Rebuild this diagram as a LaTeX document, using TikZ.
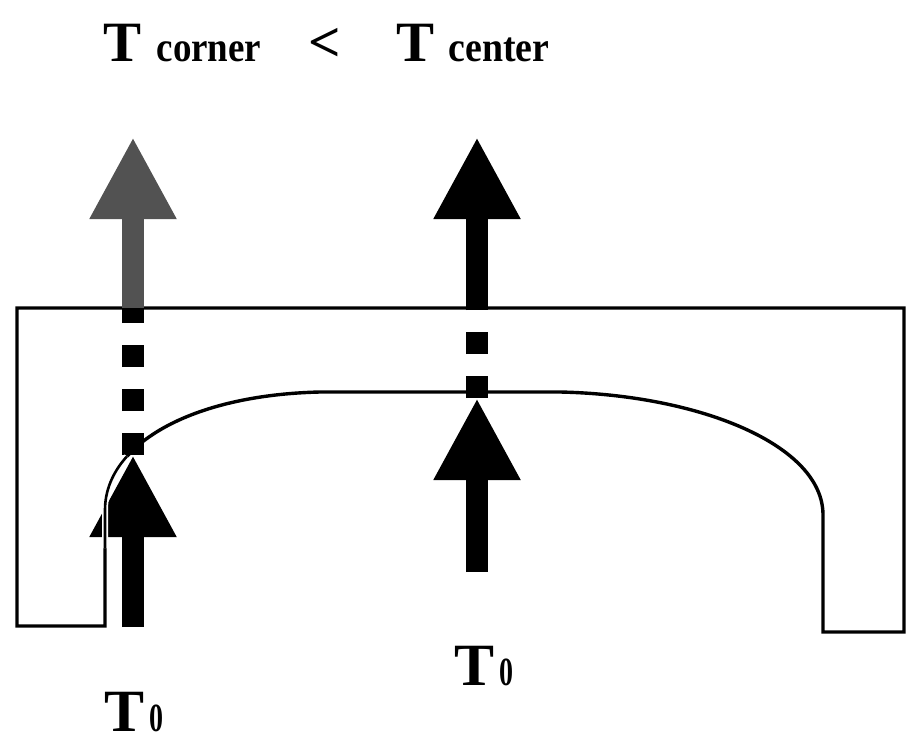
\documentclass[tikz,border=0pt]{standalone}
\usepackage{fontspec}
\setmainfont{Liberation Serif}
\usetikzlibrary{arrows.meta}

\begin{document}
\begin{tikzpicture}[
  x=1pt, y=-1pt,
  big/.style={inner sep=0pt, anchor=base west, font=\fontsize{57}{60}\selectfont\bfseries},
  small/.style={inner sep=0pt, anchor=base west, font=\fontsize{42}{44}\selectfont\bfseries},
  zero/.style={inner sep=0pt, anchor=base west, font=\fontsize{40}{42}\selectfont\bfseries},
  wall/.style={line width=3.4pt, line join=miter},
  flux/.style={line width=22pt, -{Triangle[width=81pt, length=82pt]}},
  hidden/.style={line width=22pt, dash pattern=on 22pt off 22pt}
]
\useasboundingbox (0,0) rectangle (909,744);

% heading
\node[big] (tl) at (103,61) {T};
\node[small] (corner) at ([xshift=15pt]tl.base east) {\scalebox{0.88}[1]{corner}};
\node[big] (lt) at (308,61) {<};
\node[big] (tr) at (396,61) {T};
\node[small] (center) at ([xshift=14pt]tr.base east) {\scalebox{0.9}[1]{center}};

% slab with the arched cut-out
\draw[wall] (17,626) -- (17,308) -- (904,308) -- (904,632) -- (823,632)
  -- (823,515) .. controls (823,445) and (700,395) .. (560,392)
  -- (320,392) .. controls (190,395) and (105,445) .. (105,510)
  -- (105,626) -- cycle;

% arrow end points
\coordinate (cb) at (133,627);
\coordinate (ci) at (133,455);
\coordinate (cs) at (133,308);
\coordinate (ct) at (133,137);
\coordinate (mb) at (477,572);
\coordinate (mi) at (477,398);
\coordinate (ms) at (477,308);
\coordinate (mt) at (477,137);

% heat flow through the corner
\draw[flux] (cb) -- (ci);
\draw[hidden] (ci) -- (cs);
\draw[flux, black!68] (cs) -- (ct);
% arch edge showing through the arrow head
\draw[line width=2.6pt, preaction={draw=white, line width=6pt}]
  (105,548) -- (105,510) .. controls (105,490.5) and (112.6,472.3) .. (126.9,456.4);

% heat flow through the center
\draw[flux] (mb) -- (mi);
\draw[hidden] (mi) -- (ms);
\draw[flux] (ms) -- (mt);

% inlet temperatures
\node[big, font=\fontsize{60}{62}\selectfont\bfseries] (tm) at (454,685) {T};
\node[zero] (zm) at ([xshift=5pt]tm.base east) {\scalebox{0.7}[1]{0}};
\node[big, font=\fontsize{60}{62}\selectfont\bfseries] (tc) at (104,731) {T};
\node[zero] (zc) at ([xshift=5pt]tc.base east) {\scalebox{0.7}[1]{0}};
\end{tikzpicture}
\end{document}
